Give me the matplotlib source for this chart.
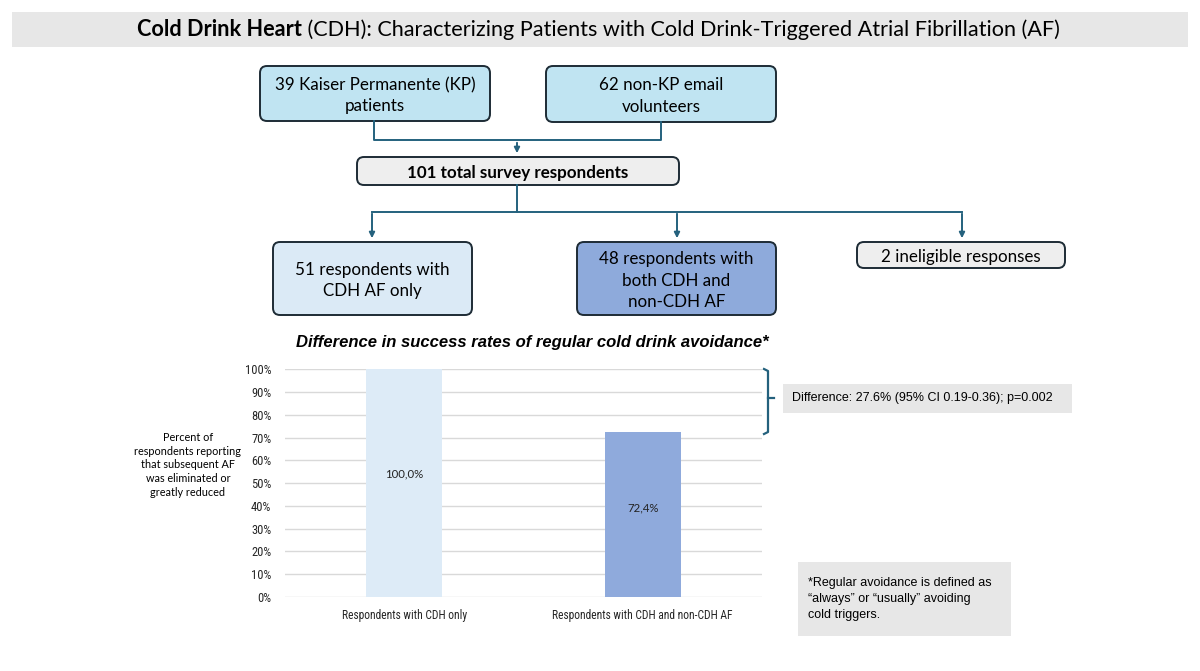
import matplotlib.pyplot as plt
from matplotlib.patches import FancyBboxPatch, Rectangle
from matplotlib.ticker import PercentFormatter

# Data
n_kp = 39
n_nonkp = 62
n_total = 101
n_cdh_only = 51
n_both = 48
n_inelig = 2

categories = ['Respondents with CDH only', 'Respondents with CDH and non-CDH AF']
success = [1.000, 0.724]
bar_labels = ['100,0%', '72,4%']
bar_colors = ['#ddebf7', '#8faadc']
yticks = [0, .1, .2, .3, .4, .5, .6, .7, .8, .9, 1.0]

sans = ['Lato', 'DejaVu Sans']
narrow = ['Roboto Condensed', 'Liberation Sans Narrow', 'Liberation Sans', 'DejaVu Sans']
plain = ['Liberation Sans', 'DejaVu Sans']
line_c = '#24617d'
edge_c = '#1d2b35'

fig = plt.figure(figsize=(12, 6.71), dpi=100)
ax0 = fig.add_axes([0, 0, 1, 1])
ax0.set_xlim(0, 1200)
ax0.set_ylim(671, 0)
ax0.axis('off')
rend = fig.canvas.get_renderer()


def fit(t, width):
    # scale font so that the text is `width` px wide
    w = t.get_window_extent(rend).width
    t.set_fontsize(t.get_fontsize() * width / w)
    return t.get_fontsize()


# title bar
ax0.add_patch(Rectangle((12, 12), 1176, 35, color='#e7e7e7', lw=0))
t1 = ax0.text(137, 30, 'Cold Drink Heart', fontsize=14, fontweight='bold',
              family=sans, va='center', ha='left')
t2 = ax0.text(300, 30, ' (CDH): Characterizing Patients with Cold Drink-Triggered Atrial Fibrillation (AF)',
              fontsize=14, family=sans, va='center', ha='left')
tot = t1.get_window_extent(rend).width + t2.get_window_extent(rend).width
k = 926 / tot
t1.set_fontsize(14 * k)
t2.set_fontsize(14 * k)
bb = t1.get_window_extent(rend).transformed(ax0.transData.inverted())
t2.set_x(bb.x1)

# box font size from the KP box
probe = ax0.text(0, 0, '39 Kaiser Permanente (KP)', fontsize=11, family=sans, alpha=0)
box_fs = fit(probe, 200)
probe.remove()


def box(x0, y0, x1, y1, text, fc, bold=False):
    ax0.add_patch(FancyBboxPatch((x0, y0), x1 - x0, y1 - y0,
                                 boxstyle='round,pad=0,rounding_size=7',
                                 fc=fc, ec=edge_c, lw=1.4))
    ax0.text((x0 + x1) / 2, (y0 + y1) / 2 + 2, text, ha='center', va='center',
             fontsize=box_fs, family=sans, fontweight='bold' if bold else 'normal',
             linespacing=1.4)


box(260, 66, 490, 121, f'{n_kp} Kaiser Permanente (KP)\npatients', '#c0e4f2')
box(546, 66, 776, 122, f'{n_nonkp} non-KP email\nvolunteers', '#c0e4f2')
box(357, 157, 679, 185, f'{n_total} total survey respondents', '#eeeeee', bold=True)
box(273, 242, 472, 315, f'{n_cdh_only} respondents with\nCDH AF only', '#dbeaf6')
box(577, 242, 776, 315, f'{n_both} respondents with\nboth CDH and\nnon-CDH AF', '#8eaadb')
box(857, 242, 1065, 268, f'{n_inelig} ineligible responses', '#eeeeee')

# connectors
ax0.plot([374, 374, 661, 661], [121, 140, 140, 122], color=line_c, lw=1.4)
ax0.annotate('', xy=(517, 156), xytext=(517, 140),
             arrowprops=dict(arrowstyle='-|>', color=line_c, lw=1.4, mutation_scale=8))
ax0.plot([517, 517], [185, 212], color=line_c, lw=1.4)
ax0.plot([372, 962], [212, 212], color=line_c, lw=1.4)
for xa in [372, 677, 962]:
    ax0.annotate('', xy=(xa, 241), xytext=(xa, 211),
                 arrowprops=dict(arrowstyle='-|>', color=line_c, lw=1.4, mutation_scale=8))

# chart title
ct = ax0.text(532, 342, 'Difference in success rates of regular cold drink avoidance*',
              ha='center', va='center', fontsize=12, fontweight='bold', style='italic',
              family=plain)
fit(ct, 471)

# y label
yl = ax0.text(188, 465, 'Percent of\nrespondents reporting\nthat subsequent AF\nwas eliminated or\ngreatly reduced',
              ha='center', va='center', fontsize=8, family=sans, linespacing=1.3)
fit(yl, 107)

# bar chart
ax = fig.add_axes([285 / 1200, (671 - 597) / 671, 477 / 1200, (597 - 369.3) / 671])
ax.patch.set_alpha(0)
xs = range(len(categories))
ax.bar(xs, success, width=0.32, color=bar_colors, zorder=2)
for x, v, lab in zip(xs, success, bar_labels):
    bt = ax.text(x, v * 0.54, lab, ha='center', va='center',
                 fontsize=9, family=sans, color='#222222')
    if x == 0:
        bl_fs = fit(bt, 38)
    else:
        bt.set_fontsize(bl_fs)
ax.set_xlim(-0.5, 1.5)
ax.set_ylim(0, 1.0)
ax.set_yticks(yticks)
ax.yaxis.set_major_formatter(PercentFormatter(1.0, decimals=0))
ax.set_xticks(list(xs))
ax.set_xticklabels(categories, family=narrow, fontsize=8.3)
for lab in ax.get_yticklabels():
    lab.set_family(narrow)
    lab.set_fontsize(9)
ax.tick_params(length=0, colors='#262626')
ax.tick_params(axis='y', pad=10)
ax.tick_params(axis='x', pad=9)
ax.grid(axis='y', color='#d9d9d9', lw=1, zorder=0)
for s in ax.spines.values():
    s.set_visible(False)

# bracket
ax0.plot([764, 768, 768, 764], [369, 371, 432, 434], color=line_c, lw=1.6)
ax0.plot([768, 774], [398, 398], color=line_c, lw=1.6)

# difference box
ax0.add_patch(Rectangle((783, 384), 289, 29, color='#e7e7e7', lw=0))
dt = ax0.text(792, 398.5, 'Difference: 27.6% (95% CI 0.19-0.36); p=0.002', ha='left',
              va='center', fontsize=9, family=plain)
fit(dt, 261)

# footnote box
ax0.add_patch(Rectangle((798, 562), 213, 74, color='#e7e7e7', lw=0))
ft = ax0.text(808, 599, '*Regular avoidance is defined as\n\u201calways\u201d or \u201cusually\u201d avoiding\ncold triggers.',
              ha='left', va='center', fontsize=9, family=plain, linespacing=1.4)
fit(ft, 184)

fig.savefig('out.png', dpi=100)
